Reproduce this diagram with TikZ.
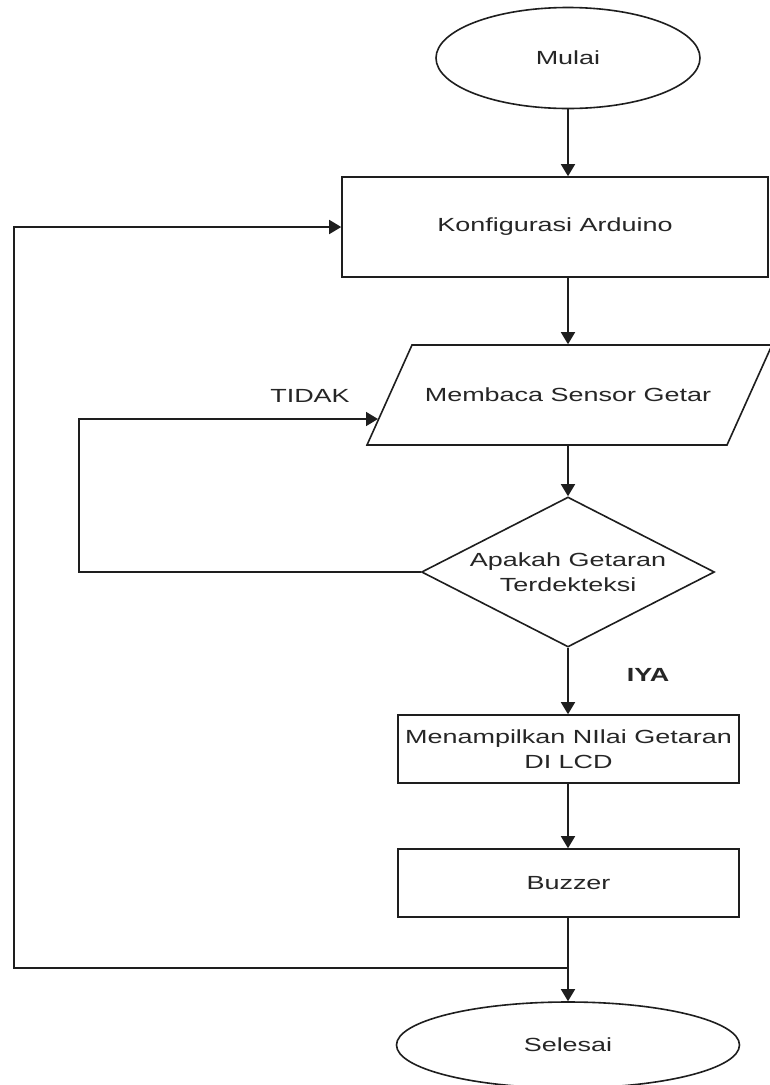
\documentclass[tikz,border=0pt]{standalone}
\usepackage{fontspec}
\newfontfamily\diafont{Liberation Sans}[FakeStretch=1.42]
\usetikzlibrary{shapes.geometric,arrows.meta}
\definecolor{ln}{HTML}{1E1E1E}
\definecolor{tx}{HTML}{262626}
\begin{document}
\begin{tikzpicture}[x=1pt,y=-1pt,line width=1.6pt,
  base/.style={font=\diafont\fontsize{19}{25}\selectfont,text=tx},
  term/.style={base,ellipse,draw=ln,inner sep=0pt},
  proc/.style={base,rectangle,draw=ln,inner sep=0pt,align=center},
  decis/.style={base,diamond,draw=ln,inner sep=0pt,aspect=1.95,align=center},
  plain/.style={base,inner sep=0pt,align=center},
  arr/.style={draw=ln,-{Triangle[width=14pt,length=12pt]}},
  lnk/.style={draw=ln}]
\useasboundingbox (0,0) rectangle (769,1085);
\fill[white] (0,0) rectangle (769,1085);
% nodes
\node[term,minimum width=264pt,minimum height=101pt] (mulai) at (568,58) {Mulai};
\node[proc,minimum width=426pt,minimum height=100pt] (konf) at (555,227) {Konfigurasi Arduino};
\draw[lnk] (367,445) -- (412,345) -- (772,345) -- (727,445) -- cycle;
\node[plain,minimum width=360pt,minimum height=100pt] (baca) at (568,395) {Membaca Sensor Getar};
\coordinate (bacaL) at (378,419);
\node[decis,minimum width=293pt,minimum height=150pt] (dec) at (568,572) {Apakah Getaran\\Terdekteksi};
\node[proc,minimum width=341pt,minimum height=68pt] (tampil) at (568.5,749) {Menampilkan NIlai Getaran\\DI LCD};
\node[proc,minimum width=341pt,minimum height=68pt] (buzz) at (568.5,883) {Buzzer};
\node[term,minimum width=343pt,minimum height=86pt] (selesai) at (568,1045) {Selesai};
\node[plain] (tidak) at (310,396) {TIDAK};
\node[plain,font=\diafont\bfseries\fontsize{19}{25}\selectfont] (iya) at (648,675) {IYA};
\coordinate (j) at (568,968);
% connectors
\draw[arr] (mulai.south) -- (mulai.south |- konf.north);
\draw[arr] (mulai.south |- konf.south) -- (baca.north);
\draw[arr] (baca.south) -- (dec.north);
\draw[arr] (dec.south) -- (tampil.north -| dec.south);
\draw[arr] (tampil.south -| dec.south) -- (buzz.north -| dec.south);
\draw[arr] (buzz.south -| dec.south) -- (selesai.north);
\draw[arr] (dec.west) -- ++(-342,0) |- (bacaL);
\draw[arr] (j) -- ++(-554,0) |- (konf.west);
\end{tikzpicture}
\end{document}
